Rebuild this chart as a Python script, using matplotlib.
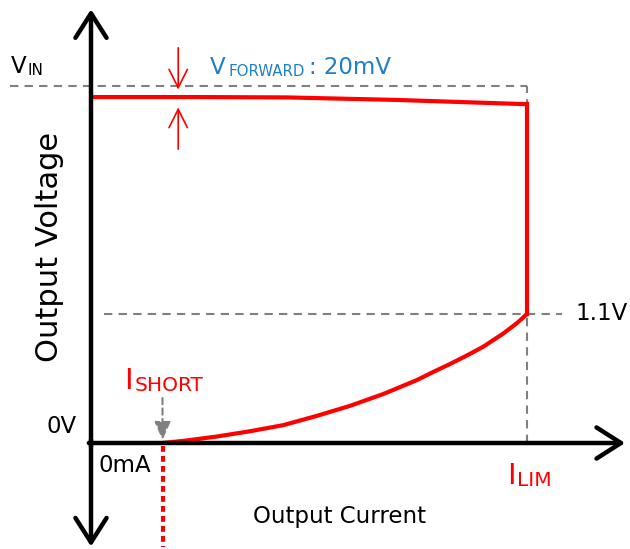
import numpy as np
import matplotlib.pyplot as plt

# normalised units: current 0..1 (I_LIM = 1), voltage 0..1 (V_IN = 1)
i_short = 0.164
i_lim = 1.0
v_in = 1.0
v_fold = 0.362  # 1.1V

# top branch: output voltage vs current (flat then a small drop)
top_current = [0.0, 0.25, 0.45, 0.7, 1.0]
top_voltage = [0.969, 0.969, 0.968, 0.961, 0.949]

# fold-back branch from I_SHORT up to I_LIM at 1.1V
fold_current = [0.164, 0.212, 0.288, 0.365, 0.441, 0.518, 0.594, 0.670, 0.747,
                0.785, 0.823, 0.862, 0.900, 0.946, 0.976, 0.990, 1.0]
fold_voltage = [0.0, 0.006, 0.018, 0.033, 0.050, 0.076, 0.104, 0.137, 0.176,
                0.199, 0.221, 0.245, 0.270, 0.307, 0.335, 0.350, 0.362]

fig = plt.figure(figsize=(6.3, 5.49), dpi=100)
ax = fig.add_axes([0, 0, 1, 1])
ax.set_xlim(-91 / 436, 539 / 436)
ax.set_ylim(-106 / 357, 443 / 357)
ax.axis('off')

grey = '#808080'
red = '#ff0000'
blue = '#1f7fc8'


def label(x, y, main, sub, size, subsize, color='black', after=None, gap=1):
    t = ax.text(x, y, main, fontsize=size, color=color, va='baseline', ha='left')
    s = ax.annotate(sub, xy=(1, 0), xycoords=t, xytext=(gap, 0), textcoords='offset points',
                    fontsize=subsize, color=color, va='bottom', ha='left')
    if after:
        ax.annotate(after, xy=(1, 0), xycoords=s, xytext=(3, 0), textcoords='offset points',
                    fontsize=size, color=color, va='bottom', ha='left')


# dashed guide lines
dash = dict(color=grey, lw=1.5, ls=(0, (4, 3)))
ax.plot([-0.185, i_lim], [v_in, v_in], **dash)
ax.plot([i_lim, i_lim], [0, v_in], **dash)
ax.plot([0.03, 1.08], [v_fold, v_fold], **dash)

# axes with open arrow heads
head = dict(arrowstyle='->,head_length=0.55,head_width=0.35', lw=3.2, color='black',
            mutation_scale=32, shrinkA=0, shrinkB=0)
ax.annotate('', xy=(0, 1.215), xytext=(0, -0.01), arrowprops=head)
ax.annotate('', xy=(0, -0.29), xytext=(0, 0.01), arrowprops=head)
ax.annotate('', xy=(1.225, 0), xytext=(-0.005, 0), arrowprops=head)

# characteristic curve
ax.plot(top_current, top_voltage, color=red, lw=3, solid_capstyle='butt')
ax.plot([i_lim, i_lim], [top_voltage[-1], v_fold], color=red, lw=3)
ax.plot(fold_current, fold_voltage, color=red, lw=3, solid_capstyle='round', solid_joinstyle='round')
ax.plot([i_short, i_short], [-0.008, -0.29], color=red, lw=3, ls=(0, (1.4, 1)))

# I_SHORT pointer
ax.annotate('', xy=(i_short, 0.008), xytext=(i_short, 0.126),
            arrowprops=dict(arrowstyle='-|>,head_length=0.8,head_width=0.35', lw=1.5,
                            color=grey, ls=(0, (3, 2)), mutation_scale=14, shrinkA=0, shrinkB=0))

# V_FORWARD arrows
fx = 0.2
vf_head = dict(arrowstyle='->,head_length=0.6,head_width=0.3', lw=1.2,
               color=red, mutation_scale=22, shrinkA=0, shrinkB=0)
ax.annotate('', xy=(fx, 0.99), xytext=(fx, 1.107), arrowprops=vf_head)
ax.annotate('', xy=(fx, 0.94), xytext=(fx, 0.823), arrowprops=vf_head)

# labels
label(-0.185, 1.037, 'V', 'IN', 16.5, 11)
label(0.273, 1.034, 'V', 'FORWARD', 16.5, 10.8, color=blue, after=': 20mV', gap=2)
label(0.076, 0.151, 'I', 'SHORT', 21, 14.5, color=red)
label(0.955, -0.115, 'I', 'LIM', 21, 14.5, color=red)

ax.text(-0.103, 0.028, '0V', fontsize=16.5, va='baseline', ha='left')
ax.text(0.018, -0.081, '0mA', fontsize=16.5, va='baseline', ha='left')
ax.text(1.11, v_fold, '1.1V', fontsize=16.5, va='center', ha='left')

ax.text(-0.096, 0.549, 'Output Voltage', fontsize=22, rotation=90, va='center', ha='center')
ax.text(0.569, -0.207, 'Output Current', fontsize=16.5, va='center', ha='center')

fig.savefig('out.png', dpi=100)
